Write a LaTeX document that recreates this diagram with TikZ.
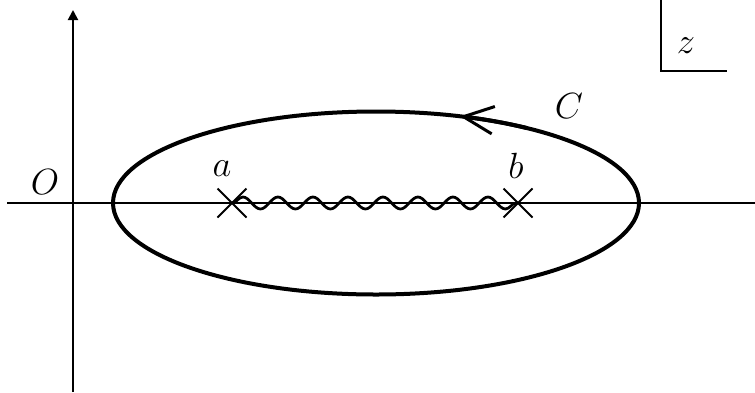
\documentclass[tikz,border=0pt]{standalone}
\usetikzlibrary{arrows.meta, shapes.misc, decorations.pathmorphing}

\begin{document}
\begin{tikzpicture}[axis/.style={line width=0.04cm}, contour/.style={line width=0.08cm},
                    cut/.style={decorate, decoration={snake, segment length=0.7cm, amplitude=0.12cm}, line width=0.055cm},
                    branch/.style={cross out, draw, minimum size=0.54cm, inner sep=0pt, line width=0.04cm},
                    lbl/.style={font=\huge}]
                      \useasboundingbox (0,0) rectangle (15.1,7.84);

                      % axes
                      \coordinate (xl) at (0.14,3.78);
                      \coordinate (xr) at (15.1,3.78);
                      \coordinate (yb) at (1.46,0);
                      \coordinate (yt) at (1.46,7.64);
                      \draw[axis] (xl) -- (xr);
                      \draw[axis, -{Triangle[length=0.2cm, width=0.2cm]}] (yb) -- (yt);
                      \node[lbl] (O) at (0.9,4.2) {$O$};

                      % contour
                      \coordinate (E) at (7.52,3.78);
                      \draw[contour] (E) ellipse (5.26cm and 1.83cm);
                      \draw[contour, -{Straight Barb[length=0.6cm, width=0.55cm, line width=0.06cm]}] (E) ++(55:5.26cm and 1.83cm) arc[start angle=55, end angle=71.4, x radius=5.26cm, y radius=1.83cm];
                      \node[lbl] (C) at (11.38,5.72) {$C$};

                      % branch points and cut
                      \node[branch] (a) at (4.64,3.78) {};
                      \node[branch] (b) at (10.36,3.78) {};
                      \draw[cut] (a.center) -- (b.center);
                      \node[lbl] (la) at (4.44,4.46) {$a$};
                      \node[lbl] (lb) at (10.32,4.52) {$b$};

                      % plane label
                      \coordinate (zt) at (13.22,7.84);
                      \coordinate (zc) at (13.22,6.42);
                      \coordinate (zr) at (14.54,6.42);
                      \draw[line width=0.03cm] (zt) -- (zc) -- (zr);
                      \node[lbl] (z) at (13.72,6.92) {$z$};

                    \end{tikzpicture}
\end{document}
